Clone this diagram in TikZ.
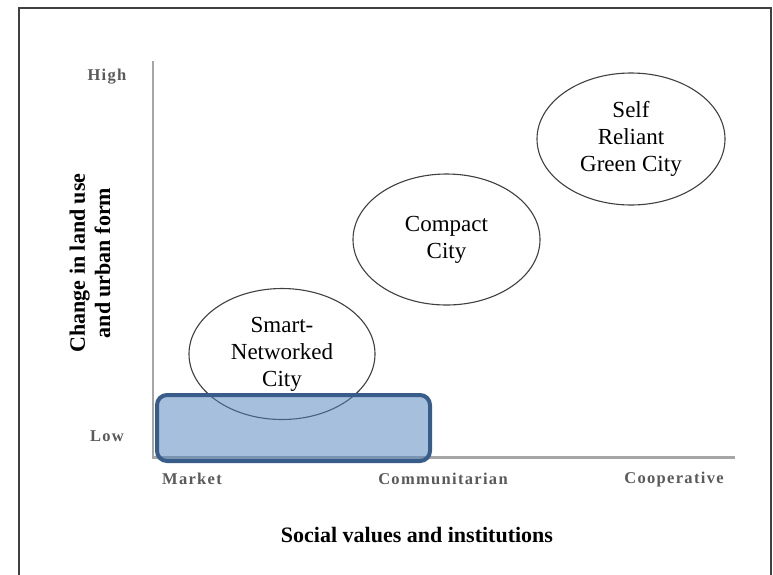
\documentclass[tikz,border=0pt]{standalone}
\usepackage{fontspec}
\setmainfont{Liberation Serif}
\newfontfamily\tickfont[LetterSpace=8]{Liberation Serif}
\usetikzlibrary{shapes.geometric}
\definecolor{framec}{HTML}{404040}
\definecolor{axisc}{HTML}{A6A6A6}
\definecolor{fillc}{HTML}{4F81BD}
\definecolor{borderc}{HTML}{385D8A}
\definecolor{tickc}{HTML}{5A5A5A}
\tikzset{
  city/.style={ellipse, draw=framec, line width=1.1pt, inner sep=0pt, align=center,
    font=\fontsize{23}{27}\selectfont},
  ticklab/.style={text=tickc, inner sep=0pt, font=\tickfont\bfseries\fontsize{16.5}{20}\selectfont},
  axisline/.style={draw=axisc, line width=2.5pt},
  lowboxstyle/.style={rectangle, draw=borderc, line width=4pt, fill=fillc, fill opacity=0.5,
    draw opacity=1, rounded corners=10pt, inner sep=0pt},
  bigbold/.style={font=\bfseries\fontsize{22}{25}\selectfont, align=center, inner sep=0pt}
}
\begin{document}
\begin{tikzpicture}[x=1pt,y=-1pt]
\clip (0,0) rectangle (773,574);
\fill[white] (0,0) rectangle (773,574);
% frame
\draw[framec, line width=1.5pt] (19,600) -- (19,8) -- (771,8) -- (771,600);
% axes
\coordinate (ytop) at (153,61);
\coordinate (orig) at (153,457.5);
\coordinate (xend) at (735,457.5);
\draw[axisline] (ytop) -- (orig) -- (xend);
% ellipses
\node[city, minimum width=186, minimum height=131] (smart) at (282,354) {Smart-\\Networked\\City};
\node[city, minimum width=187, minimum height=131] (compact) at (446.5,239.5) {Compact\\City};
\node[city, minimum width=188, minimum height=132] (green) at (631,139) {Self\\Reliant\\Green City};
% low box
\node[lowboxstyle, minimum width=273, minimum height=66] (lowbox) at (293.5,428) {};
% tick labels
\node[ticklab] (high) at (107,77) {High};
\node[ticklab] (low) at (107,436) {Low};
\node[ticklab] (market) at (192,479) {Market};
\node[ticklab] (comm) at (443,479) {Communitarian};
\node[ticklab] (coop) at (674,480) {Cooperative};
% axis titles
\node[bigbold] (xlab) at (417,535) {Social values and institutions};
\node[bigbold, rotate=90] (ylab) at (90,263) {Change in land use\\and urban form};
\end{tikzpicture}
\end{document}
